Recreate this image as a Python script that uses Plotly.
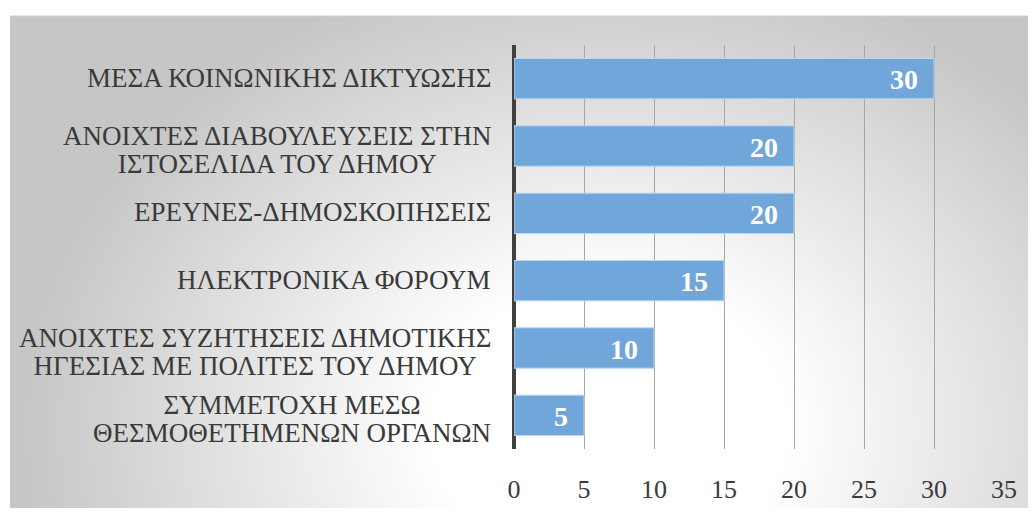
import base64
import plotly.graph_objects as go

# ---------------- data ----------------
categories = [
    "ΜΕΣΑ ΚΟΙΝΩΝΙΚΗΣ ΔΙΚΤΥΩΣΗΣ",
    "ΑΝΟΙΧΤΕΣ ΔΙΑΒΟΥΛΕΥΣΕΙΣ ΣΤΗΝ<br>ΙΣΤΟΣΕΛΙΔΑ ΤΟΥ ΔΗΜΟΥ",
    "ΕΡΕΥΝΕΣ-ΔΗΜΟΣΚΟΠΗΣΕΙΣ",
    "ΗΛΕΚΤΡΟΝΙΚΑ ΦΟΡΟΥΜ",
    "ΑΝΟΙΧΤΕΣ ΣΥΖΗΤΗΣΕΙΣ ΔΗΜΟΤΙΚΗΣ<br>ΗΓΕΣΙΑΣ ΜΕ ΠΟΛΙΤΕΣ ΤΟΥ ΔΗΜΟΥ",
    "ΣΥΜΜΕΤΟΧΗ ΜΕΣΩ<br>ΘΕΣΜΟΘΕΤΗΜΕΝΩΝ ΟΡΓΑΝΩΝ",
]
values = [30, 20, 20, 15, 10, 5]
x_ticks = [0, 5, 10, 15, 20, 25, 30, 35]

# ---------------- layout constants ----------------
# page body has an 8px margin, so the figure is drawn 8px smaller / shifted
W, H = 1028, 508
ML, MR, MT, MB = 506, 32, 37, 60
SERIF = "Liberation Serif, Times New Roman, serif"
TXT = "#3a3a3a"
BAR = "#71a6da"
LABEL_PX = 27          # glyph size of category labels
LINE_BASE = 21.5       # base size -> line spacing 1.3*21.5 ≈ 28px

# background radial gradient (chart area) as inline SVG
box_x0, box_y0 = 2, 7
bw, bh = W - box_x0, H - box_y0
svg = f'''<svg xmlns="http://www.w3.org/2000/svg" width="{bw}" height="{bh}" viewBox="0 0 {bw} {bh}" preserveAspectRatio="none">
<defs><radialGradient id="g" gradientUnits="userSpaceOnUse" cx="0" cy="0" r="1"
 gradientTransform="translate(600,420) scale(590,480)">
<stop offset="0" stop-color="#ffffff"/><stop offset="0.3" stop-color="#ffffff"/>
<stop offset="1" stop-color="#c6c6c6"/></radialGradient></defs>
<rect x="0" y="0" width="{bw}" height="{bh}" fill="url(#g)"/>
<line x1="0" y1="0.5" x2="{bw}" y2="0.5" stroke="#d0d0d0" stroke-width="1"/>
</svg>'''
src = "data:image/svg+xml;base64," + base64.b64encode(svg.encode("utf-8")).decode()

pw, ph = W - ML - MR, H - MT - MB
px0 = (box_x0 - ML) / pw
py_top = (H - MB - box_y0) / ph

fig = go.Figure()
fig.add_trace(go.Bar(
    x=values, y=categories, orientation="h", width=0.6,
    marker=dict(color=BAR, line=dict(color="#bdd7ee", width=1)),
    hoverinfo="x+y",
))

annotations = []
for c, v in zip(categories, values):
    annotations.append(dict(
        x=v, y=c, xref="x", yref="y", text=str(v), showarrow=False,
        xanchor="right", yanchor="middle", xshift=-14, yshift=-1,
        font=dict(family=SERIF, size=28, color="white", weight="bold"),
    ))
    lines = c.split("<br>")
    label = "<br>".join(f"<span style='font-size:{LABEL_PX}px'>{ln}</span>" for ln in lines)
    annotations.append(dict(
        x=0, y=c, xref="paper", yref="y", text=label, showarrow=False,
        xanchor="right", yanchor="middle", xshift=-21, align="center",
        yshift=(-4 if len(lines) > 1 else 1),
        font=dict(family=SERIF, size=LINE_BASE, color=TXT),
    ))

fig.update_layout(
    width=W, height=H,
    margin=dict(l=ML, r=MR, t=MT, b=MB),
    paper_bgcolor="white", plot_bgcolor="rgba(0,0,0,0)",
    showlegend=False,
    images=[dict(source=src, xref="paper", yref="paper", x=px0, y=py_top,
                 sizex=bw / pw, sizey=bh / ph, xanchor="left", yanchor="top",
                 sizing="stretch", layer="below")],
    annotations=annotations,
    xaxis=dict(range=[0, 35], tickvals=x_ticks, ticktext=[str(t) for t in x_ticks],
               showgrid=True, gridcolor="#a6a6a6", gridwidth=1,
               zeroline=True, zerolinecolor="#404040", zerolinewidth=4,
               ticks="", ticklabelstandoff=22, showline=False,
               tickfont=dict(family=SERIF, size=26, color=TXT), fixedrange=True),
    yaxis=dict(autorange="reversed", showticklabels=False, showgrid=False,
               zeroline=False, showline=False, ticks="", fixedrange=True),
)

fig.write_html("out.html")
